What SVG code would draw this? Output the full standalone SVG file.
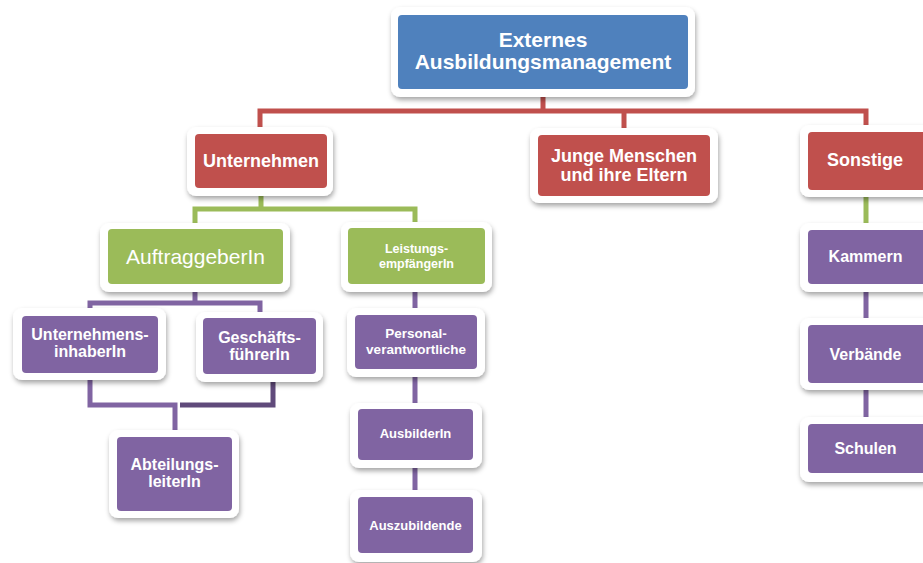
<svg xmlns="http://www.w3.org/2000/svg" width="923" height="563" viewBox="0 0 923 563">
  <defs>
    <filter id="shadow" x="-20%" y="-20%" width="140%" height="150%">
      <feDropShadow dx="1" dy="3" stdDeviation="2.5" flood-color="#000" flood-opacity="0.35"/>
    </filter>
    <style>
      .frame { fill: #ffffff; filter: url(#shadow); }
      .blue { fill: #4f81bd; }
      .red { fill: #c0504d; }
      .green { fill: #9bbb59; }
      .purple { fill: #8064a2; }
      .lbl { font-family: "Liberation Sans", Arial, sans-serif; font-weight: bold; fill: #ffffff; text-anchor: middle; }
      .plain { font-weight: normal; }
      .c { fill: none; stroke-width: 5; stroke-linejoin: miter; stroke-linecap: butt; }
      .c-red { stroke: #c0504d; }
      .c-green { stroke: #9bbb59; }
      .c-purple { stroke: #8064a2; }
      .c-dark { stroke: #604a7b; }
    </style>
  </defs>
  <rect width="923" height="563" fill="#ffffff"/>

  <!-- connectors -->
  <g id="connectors">
    <path class="c c-red" d="M543 89 V111 M260 130 V111 H866 V128 M624 111 V130"/>
    <path class="c c-green" d="M261 188 V209 M195 226 V209 H415 V225"/>
    <path class="c c-green" d="M866 188 V226"/>
    <path class="c c-purple" d="M195 282 V303 M90 311 V303 H260 V315"/>
    <path class="c c-purple" d="M90 372 V405 H175 V433"/>
    <path class="c c-dark" d="M273 373 V405 H180"/>
    <path class="c c-purple" d="M415 283 V311 M415 368 V406 M415 459 V493"/>
    <path class="c c-purple" d="M866 283 V321 M866 382 V420"/>
  </g>

  <!-- nodes -->
  <g id="node-top">
    <rect class="frame" x="391" y="7" width="304" height="90" rx="9"/>
    <rect class="blue" x="398" y="15" width="290" height="74" rx="4"/>
    <text class="lbl" x="543" y="47" font-size="21">Externes</text>
    <text class="lbl" x="543" y="69" font-size="21">Ausbildungsmanagement</text>
  </g>

  <g id="node-unternehmen">
    <rect class="frame" x="187" y="127" width="146" height="69" rx="9"/>
    <rect class="red" x="195" y="134" width="132" height="54" rx="4"/>
    <text class="lbl" x="261" y="167" font-size="18">Unternehmen</text>
  </g>

  <g id="node-junge">
    <rect class="frame" x="530" y="128" width="188" height="75" rx="9"/>
    <rect class="red" x="538" y="135" width="172" height="61" rx="4"/>
    <text class="lbl" x="624" y="162" font-size="18">Junge Menschen</text>
    <text class="lbl" x="624" y="181" font-size="18">und ihre Eltern</text>
  </g>

  <g id="node-sonstige">
    <rect class="frame" x="800" y="125" width="135" height="72" rx="9"/>
    <rect class="red" x="808" y="132" width="122" height="58" rx="4"/>
    <text class="lbl" x="865" y="166" font-size="18">Sonstige</text>
  </g>

  <g id="node-auftraggeber">
    <rect class="frame" x="100" y="223" width="190" height="69" rx="9"/>
    <rect class="green" x="108" y="229" width="175" height="55" rx="4"/>
    <text class="lbl plain" x="195.5" y="264" font-size="21">AuftraggeberIn</text>
  </g>

  <g id="node-leistung">
    <rect class="frame" x="341" y="222" width="151" height="70" rx="9"/>
    <rect class="green" x="348" y="228" width="137" height="56" rx="4"/>
    <text class="lbl" x="416.5" y="253" font-size="12.5">Leistungs-</text>
    <text class="lbl" x="416.5" y="267.5" font-size="12.5">empfängerIn</text>
  </g>

  <g id="node-inhaber">
    <rect class="frame" x="13" y="308" width="153" height="72" rx="9"/>
    <rect class="purple" x="22" y="316" width="136" height="57" rx="4"/>
    <text class="lbl" x="90" y="340" font-size="16">Unternehmens-</text>
    <text class="lbl" x="90" y="357" font-size="16">inhaberIn</text>
  </g>

  <g id="node-gf">
    <rect class="frame" x="196" y="312" width="127" height="70" rx="9"/>
    <rect class="purple" x="203" y="318" width="113" height="56" rx="4"/>
    <text class="lbl" x="259.5" y="343" font-size="16">Geschäfts-</text>
    <text class="lbl" x="259.5" y="360" font-size="16">führerIn</text>
  </g>

  <g id="node-abteilung">
    <rect class="frame" x="109" y="430" width="130" height="88" rx="9"/>
    <rect class="purple" x="117" y="437" width="115" height="74" rx="4"/>
    <text class="lbl" x="174.5" y="470" font-size="16">Abteilungs-</text>
    <text class="lbl" x="174.5" y="487" font-size="16">leiterIn</text>
  </g>

  <g id="node-personal">
    <rect class="frame" x="347" y="308" width="138" height="69" rx="9"/>
    <rect class="purple" x="355" y="315" width="122" height="54" rx="4"/>
    <text class="lbl" x="416" y="337.5" font-size="13.5">Personal-</text>
    <text class="lbl" x="416" y="353.5" font-size="13.5">verantwortliche</text>
  </g>

  <g id="node-ausbilder">
    <rect class="frame" x="350" y="403" width="132" height="65" rx="9"/>
    <rect class="purple" x="358" y="409" width="115" height="51" rx="4"/>
    <text class="lbl" x="415.5" y="438" font-size="13">AusbilderIn</text>
  </g>

  <g id="node-azubi">
    <rect class="frame" x="350" y="490" width="132" height="72" rx="9"/>
    <rect class="purple" x="358" y="497" width="115" height="56" rx="4"/>
    <text class="lbl" x="415.5" y="530" font-size="13">Auszubildende</text>
  </g>

  <g id="node-kammern">
    <rect class="frame" x="800" y="223" width="135" height="69" rx="9"/>
    <rect class="purple" x="808" y="230" width="122" height="54" rx="4"/>
    <text class="lbl" x="865.5" y="262" font-size="16">Kammern</text>
  </g>

  <g id="node-verbaende">
    <rect class="frame" x="800" y="318" width="135" height="72" rx="9"/>
    <rect class="purple" x="808" y="325" width="122" height="58" rx="4"/>
    <text class="lbl" x="865.5" y="360" font-size="16">Verbände</text>
  </g>

  <g id="node-schulen">
    <rect class="frame" x="800" y="417" width="135" height="65" rx="9"/>
    <rect class="purple" x="808" y="424" width="122" height="49" rx="4"/>
    <text class="lbl" x="865.5" y="454" font-size="16">Schulen</text>
  </g>
</svg>
